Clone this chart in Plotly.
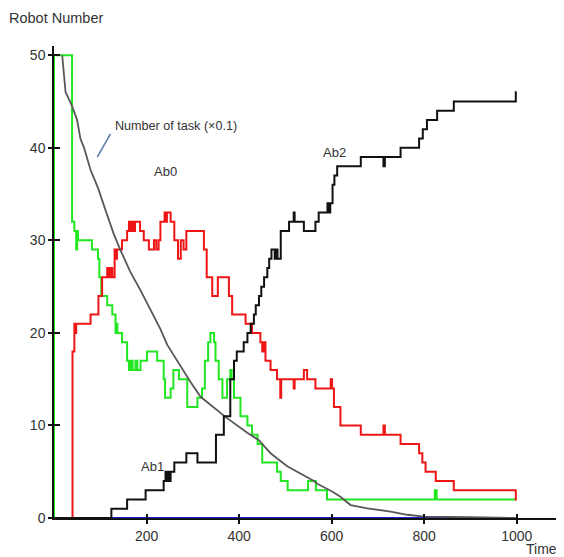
import plotly.graph_objects as go

# ---- data (step series, change points) ----
ab0_x = [0, 40, 44, 46, 48, 79, 96, 104, 115, 118, 122, 126, 131, 134, 136, 147, 158, 162, 166, 169, 172, 175, 186, 194, 205, 216, 221, 226, 230, 239, 242, 244, 252, 260, 268, 274, 280, 286, 324, 330, 342, 354, 378, 385, 414, 428, 446, 450, 453, 457, 468, 482, 489, 491, 518, 520, 540, 547, 565, 598, 601, 605, 619, 663, 712, 715, 749, 789, 796, 803, 825, 864, 998, 1000]
ab0_y = [0, 18, 21, 20, 21, 22, 24, 26, 27, 26, 27, 26, 29, 28, 29, 30, 31, 32, 31, 32, 31, 32, 31, 30, 29, 30, 29, 30, 32, 33, 32, 33, 32, 30, 28, 30, 29, 31, 29, 26, 24, 26, 24, 22, 21, 20, 19, 18, 19, 17, 16, 15, 13, 15, 14, 15, 16, 15, 14, 15, 14, 12, 10, 9, 10, 9, 8, 7, 6, 5, 4, 3, 2, 2]

green_x = [0, 0, 39, 44, 48, 50, 52, 82, 95, 98, 102, 115, 126, 133, 135, 137, 147, 158, 162, 166, 170, 176, 180, 187, 201, 223, 237, 240, 252, 258, 270, 288, 310, 320, 326, 333, 338, 346, 349, 356, 364, 374, 381, 384, 389, 403, 418, 428, 440, 450, 482, 490, 505, 549, 566, 590, 823, 827, 1000]
green_y = [0, 50, 32, 31, 29, 31, 30, 29, 28, 26, 24, 23, 22, 20, 21, 20, 19, 17, 16, 17, 16, 17, 16, 17, 18, 17, 15, 13, 14, 16, 15, 12, 13, 14, 17, 19, 20, 19, 17, 15, 13, 15, 16, 15, 13, 11, 10, 9, 8, 6, 5, 4, 3, 4, 3, 2, 3, 2, 2]

black_x = [0, 124, 158, 198, 237, 241, 243, 246, 248, 252, 260, 286, 310, 350, 367, 381, 389, 395, 410, 418, 425, 432, 436, 443, 448, 454, 461, 465, 470, 477, 480, 483, 490, 508, 518, 520, 540, 565, 572, 591, 595, 597, 602, 606, 612, 663, 712, 715, 749, 789, 797, 806, 828, 864, 998, 1000]
black_y = [0, 1, 2, 3, 4, 5, 4, 5, 4, 5, 6, 7, 6, 9, 11, 15, 17, 18, 19, 20, 21, 22, 23, 24, 25, 26, 27, 28, 29, 28, 29, 28, 31, 32, 33, 32, 31, 32, 33, 34, 33, 34, 36, 37, 38, 39, 38, 39, 40, 41, 42, 43, 44, 45, 46, 46]

blue_x = [0, 1000]
blue_y = [0, 0]

task_x = [17.7, 21, 25, 30, 39, 50, 57, 65, 79, 90, 97, 111, 129, 144, 165, 187, 208.6, 230, 244.8, 273.5, 295, 316.8, 371, 417.7, 442.8, 453.6, 468, 504, 561.7, 569, 600, 619, 641, 677, 727.6, 763.7, 799.6, 900, 1000]
task_y = [50, 48.5, 46, 45.5, 44.5, 43, 41, 40, 37.6, 36.3, 35.4, 33.3, 30.7, 28.9, 26.6, 24.6, 22.4, 20.4, 18.7, 16.4, 14.7, 13.1, 10.9, 9.2, 8.4, 7.8, 7.0, 5.6, 4.0, 3.7, 2.9, 2.3, 1.4, 1.05, 0.7, 0.35, 0.15, 0.08, 0.0]

x_ticks = [200, 400, 600, 800, 1000]
y_ticks = [0, 10, 20, 30, 40, 50]

FONT = "Arial, Liberation Sans, sans-serif"
TXT = "#333333"

# page has an 8px body margin: compensate so the figure fills the 564x557 window
PAD = 8
W, H = 564 - PAD, 557 - PAD
PL, PT, PR, PB = 54, 46, 563, 518   # plot area in window pixels
PW, PH = PR - PL, PB - PT

fig = go.Figure()
fig.add_trace(go.Scatter(x=blue_x, y=blue_y, mode="lines", line=dict(color="#1f1fd6", width=2)))
fig.add_trace(go.Scatter(x=green_x, y=green_y, mode="lines", line=dict(color="#22e622", width=2, shape="hv")))
fig.add_trace(go.Scatter(x=ab0_x, y=ab0_y, mode="lines", line=dict(color="#ee1515", width=2, shape="hv")))
fig.add_trace(go.Scatter(x=task_x, y=task_y, mode="lines", line=dict(color="#585858", width=1.8)))
fig.add_trace(go.Scatter(x=black_x, y=black_y, mode="lines", line=dict(color="#111111", width=2, shape="hv")))
# invisible trace to host overlay axes (crossing tick marks)
fig.add_trace(go.Scatter(x=[0], y=[0], mode="markers", marker=dict(opacity=0), xaxis="x2", yaxis="y2", hoverinfo="skip"))

fig.update_layout(
    width=W, height=H,
    margin=dict(l=PL - PAD, r=W - (PR - PAD), t=PT - PAD, b=H - (PB - PAD)),
    paper_bgcolor="white", plot_bgcolor="white",
    showlegend=False,
    font=dict(family=FONT, size=14, color=TXT),
    xaxis=dict(range=[0, 1100], tickvals=x_ticks, ticks="outside", ticklen=4, tickwidth=2,
               tickcolor="#111", showline=True, linecolor="#111", linewidth=1.5,
               showgrid=False, zeroline=False, tickfont=dict(size=14, color=TXT)),
    yaxis=dict(range=[0, 51], tickvals=y_ticks, ticks="outside", ticklen=4, tickwidth=2,
               tickcolor="#111", showline=True, linecolor="#111", linewidth=1.5,
               showgrid=False, zeroline=False, tickfont=dict(size=14, color=TXT)),
    xaxis2=dict(overlaying="x", matches="x", anchor="y2", range=[0, 1100], tickvals=x_ticks,
                ticks="inside", ticklen=4, tickwidth=2, tickcolor="#111",
                showticklabels=False, showline=False, showgrid=False, zeroline=False),
    yaxis2=dict(overlaying="y", matches="y", anchor="x2", range=[0, 51], tickvals=y_ticks[1:],
                ticks="inside", ticklen=6, tickwidth=2, tickcolor="#111",
                showticklabels=False, showline=False, showgrid=False, zeroline=False),
)

annots = [
    dict(text="Robot Number", xref="paper", yref="paper", x=(7 - PL) / PW, y=(PB - 18) / PH,
         xanchor="left", yanchor="middle", font=dict(size=14.5, color=TXT)),
    dict(text="Time", xref="paper", yref="paper", x=(559 - PL) / PW, y=(PB - 549) / PH,
         xanchor="right", yanchor="middle", font=dict(size=14, color=TXT)),
    dict(text="Number of task (×0.1)", x=128, y=42.4, xanchor="left", yanchor="middle",
         font=dict(size=12.6, color=TXT)),
    dict(text="Ab0", x=241, y=37.4, xanchor="center", yanchor="middle", font=dict(size=13, color=TXT)),
    dict(text="Ab1", x=212, y=5.6, xanchor="center", yanchor="middle", font=dict(size=13, color=TXT)),
    dict(text="Ab2", x=606, y=39.5, xanchor="center", yanchor="middle", font=dict(size=13, color=TXT)),
]
for a in annots:
    a["showarrow"] = False
    fig.add_annotation(**a)

fig.add_shape(type="line", x0=93.5, y0=39.0, x1=122, y1=41.5, line=dict(color="#5577aa", width=1.5))

fig.write_html("out.html")
